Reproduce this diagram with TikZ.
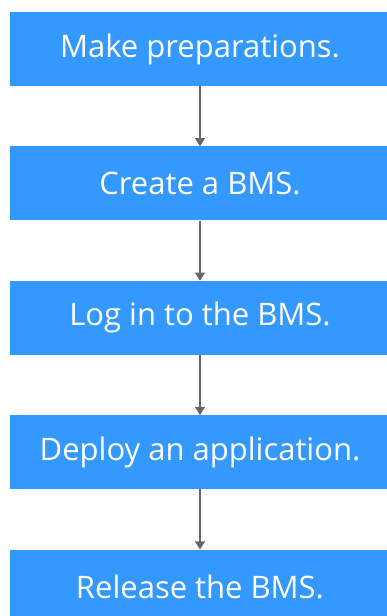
\documentclass[tikz,border=0pt]{standalone}
\usepackage{fontspec}
\setmainfont{Open Sans}
\usetikzlibrary{positioning, arrows.meta}

\definecolor{boxblue}{HTML}{3399FF}
\definecolor{arrowgray}{HTML}{666666}

\tikzset{
  stepbox/.style={rectangle, fill=boxblue, text=white, minimum width=380pt,
    minimum height=74pt, inner sep=0pt, font=\fontsize{31}{36}\selectfont},
  flow/.style={draw=arrowgray, line width=1.2pt, -{Triangle[length=8pt, width=10pt]}},
}

\begin{document}
\begin{tikzpicture}[x=1pt, y=-1pt]
  \useasboundingbox (0,0) rectangle (386,616);
  \node [stepbox] (prep) at (200,49) {Make preparations.};
  \node [stepbox, below=60pt of prep] (create) {Create a BMS.};
  \node [stepbox, below=60pt of create] (login) {Log in to the BMS.};
  \node [stepbox, below=60pt of login] (deploy) {Deploy an application.};
  \node [stepbox, below=60pt of deploy] (release) {Release the BMS.};
  \draw [flow] (prep) -- (create);
  \draw [flow] (create) -- (login);
  \draw [flow] (login) -- (deploy);
  \draw [flow] (deploy) -- (release);
\end{tikzpicture}
\end{document}
